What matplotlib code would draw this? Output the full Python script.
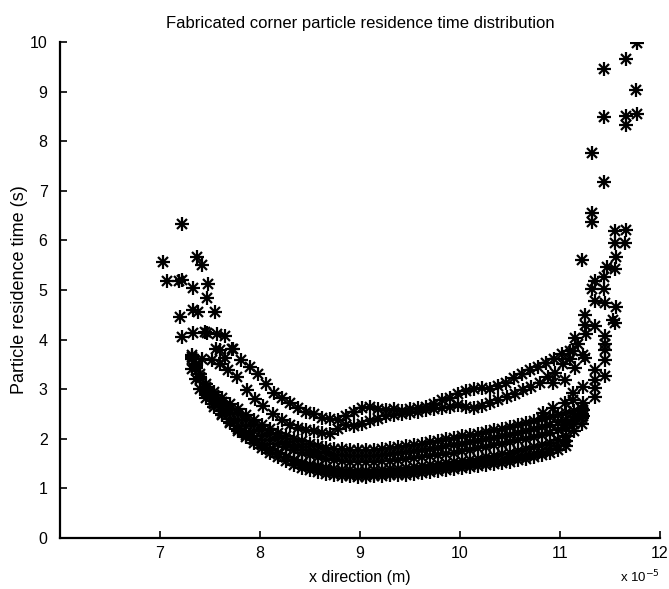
import matplotlib
matplotlib.use("Agg")
import matplotlib.pyplot as plt

plt.rcParams['font.family'] = ['Liberation Sans', 'DejaVu Sans']

# x positions are in units of 1e-5 m, y in seconds

# top band
x1 = [7.65, 7.73, 7.81, 7.9, 7.98, 8.06, 8.14, 8.22, 8.3, 8.38, 8.46, 8.54, 8.62, 8.7, 8.78,
      8.86, 8.94, 9.02, 9.1, 9.18, 9.26, 9.34, 9.42, 9.5, 9.58, 9.66, 9.74, 9.82, 9.9, 9.98,
      10.06, 10.14, 10.22, 10.3, 10.38, 10.46, 10.54, 10.62, 10.7, 10.78, 10.86, 10.94, 11.02,
      11.1, 11.18, 11.26]
y1 = [4.08, 3.82, 3.58, 3.45, 3.3, 3.1, 2.92, 2.82, 2.72, 2.62, 2.55, 2.5, 2.42, 2.4, 2.38,
      2.45, 2.55, 2.62, 2.65, 2.6, 2.58, 2.6, 2.57, 2.6, 2.62, 2.65, 2.7, 2.78, 2.82, 2.9,
      2.97, 3.0, 3.02, 3.0, 3.06, 3.12, 3.22, 3.3, 3.38, 3.45, 3.52, 3.6, 3.7,
      3.78, 3.92, 4.12]

# second band
x2 = [7.42, 7.52, 7.6, 7.68, 7.77, 7.87, 7.95, 8.03, 8.13, 8.22, 8.3, 8.38, 8.46, 8.54, 8.62,
      8.7, 8.78, 8.86, 8.94, 9.02, 9.1, 9.18, 9.26, 9.34, 9.42, 9.5, 9.58, 9.66, 9.74, 9.82,
      9.9, 9.98, 10.06, 10.14, 10.22, 10.3, 10.38, 10.47, 10.55, 10.63, 10.71, 10.8, 10.88,
      10.95, 11.03, 11.1]
y2 = [3.6, 3.58, 3.5, 3.38, 3.25, 2.98, 2.8, 2.66, 2.5, 2.38, 2.28, 2.22, 2.18, 2.15, 2.12,
      2.1, 2.2, 2.28, 2.26, 2.3, 2.35, 2.4, 2.45, 2.48, 2.5, 2.52, 2.55, 2.58, 2.6, 2.62,
      2.65, 2.68, 2.65, 2.62, 2.66, 2.72, 2.78, 2.84, 2.9, 2.98, 3.05, 3.13, 3.25,
      3.33, 3.5, 3.6]

# lower dense bands
x3 = [7.32, 7.36, 7.4, 7.46, 7.54, 7.62, 7.7, 7.78, 7.86, 7.94, 8.02, 8.1, 8.18, 8.26, 8.34,
      8.42, 8.5, 8.58, 8.66, 8.74, 8.82, 8.9, 8.98, 9.06, 9.14, 9.22, 9.3, 9.38, 9.46, 9.54,
      9.62, 9.7, 9.78, 9.86, 9.94, 10.02, 10.1, 10.18, 10.26, 10.34, 10.42, 10.5, 10.58,
      10.66, 10.74, 10.82, 10.9, 10.98, 11.06, 11.14, 11.22]
y3 = [3.68, 3.5, 3.3, 3.1, 2.95, 2.82, 2.7, 2.6, 2.48, 2.38, 2.28, 2.2, 2.12, 2.05, 2.0,
      1.95, 1.9, 1.86, 1.82, 1.8, 1.79, 1.78, 1.78, 1.78, 1.78, 1.8, 1.82, 1.84, 1.86, 1.88,
      1.9, 1.93, 1.96, 2.0, 2.02, 2.05, 2.08, 2.1, 2.13, 2.17, 2.2, 2.24, 2.28,
      2.32, 2.36, 2.4, 2.44, 2.48, 2.52, 2.56, 2.6]
y3b = [3.64, 3.46, 3.25, 3.05, 2.88, 2.74, 2.61, 2.49, 2.37, 2.27, 2.17, 2.09, 2.01, 1.94, 1.88,
       1.83, 1.78, 1.74, 1.71, 1.68, 1.67, 1.66, 1.65, 1.65, 1.66, 1.67, 1.69, 1.71, 1.73, 1.75,
       1.77, 1.79, 1.82, 1.85, 1.87, 1.9, 1.93, 1.96, 1.99, 2.02, 2.05, 2.08, 2.12,
       2.16, 2.2, 2.24, 2.28, 2.33, 2.38, 2.44, 2.5]
y4 = [3.6, 3.42, 3.2, 3.0, 2.82, 2.66, 2.52, 2.38, 2.26, 2.15, 2.06, 1.98, 1.9, 1.83, 1.77,
      1.72, 1.67, 1.63, 1.6, 1.57, 1.55, 1.54, 1.53, 1.53, 1.54, 1.55, 1.56, 1.57, 1.59, 1.61,
      1.63, 1.65, 1.67, 1.7, 1.72, 1.75, 1.78, 1.81, 1.84, 1.87, 1.9, 1.93, 1.97,
      2.0, 2.04, 2.08, 2.12, 2.17, 2.22, 2.3, 2.42]
y5 = [3.4, 3.2, 3.0, 2.82, 2.64, 2.48, 2.34, 2.2, 2.08, 1.97, 1.87, 1.78, 1.7, 1.63, 1.57,
      1.52, 1.48, 1.45, 1.42, 1.4, 1.38, 1.37, 1.36, 1.36, 1.37, 1.38, 1.39, 1.4, 1.42, 1.43,
      1.45, 1.47, 1.49, 1.51, 1.53, 1.55, 1.58, 1.6, 1.63, 1.66, 1.69, 1.72, 1.75,
      1.79, 1.83, 1.87, 1.92, 1.97, 2.05, 2.15, 2.3]
x6 = [7.46, 7.54, 7.62, 7.7, 7.78, 7.86, 7.94, 8.02, 8.1, 8.18, 8.26, 8.34, 8.42, 8.5, 8.58,
      8.66, 8.74, 8.82, 8.9, 8.98, 9.06, 9.14, 9.22, 9.3, 9.38, 9.46, 9.54, 9.62, 9.7, 9.78,
      9.86, 9.94, 10.02, 10.1, 10.18, 10.26, 10.34, 10.42, 10.5, 10.58, 10.66, 10.74, 10.82,
      10.9, 10.98, 11.06]
y6 = [2.92, 2.7, 2.5, 2.32, 2.16, 2.03, 1.92, 1.82, 1.72, 1.63, 1.55, 1.48, 1.42, 1.37, 1.33,
      1.3, 1.27, 1.25, 1.24, 1.23, 1.23, 1.24, 1.25, 1.26, 1.27, 1.28, 1.3, 1.31, 1.33, 1.35,
      1.37, 1.39, 1.41, 1.43, 1.45, 1.47, 1.49, 1.51, 1.54, 1.57, 1.6, 1.63, 1.67,
      1.72, 1.78, 1.86]
y6b = [2.96, 2.76, 2.57, 2.4, 2.25, 2.12, 2.0, 1.9, 1.8, 1.71, 1.63, 1.56, 1.5, 1.45, 1.41,
       1.37, 1.34, 1.32, 1.3, 1.29, 1.29, 1.3, 1.31, 1.32, 1.33, 1.34, 1.35, 1.37, 1.39, 1.41,
       1.43, 1.45, 1.47, 1.49, 1.51, 1.53, 1.55, 1.58, 1.61, 1.64, 1.67, 1.7, 1.74,
       1.79, 1.86, 1.95]

# scattered points, left end
x_left = [7.03, 7.07, 7.19, 7.22, 7.33, 7.37, 7.42, 7.48, 7.47, 7.33, 7.38, 7.55, 7.2, 7.22,
          7.33, 7.45, 7.47, 7.57, 7.56, 7.72, 7.22, 7.6, 7.65]
y_left = [5.56, 5.19, 5.19, 5.2, 5.05, 5.67, 5.5, 5.13, 4.83, 4.6, 4.56, 4.56, 4.46, 4.06,
          4.13, 4.16, 4.13, 4.11, 3.82, 3.82, 6.33, 3.79, 3.63]

# scattered points, right end
x_right = [11.77, 11.66, 11.44, 11.76, 11.44, 11.66, 11.77, 11.66, 11.32, 11.44, 11.32, 11.32,
           11.55, 11.66, 11.55, 11.65, 11.22, 11.56, 11.47, 11.55, 11.44, 11.35, 11.32, 11.44,
           11.35, 11.45, 11.56, 11.53, 11.55, 11.25, 11.25, 11.35, 11.45, 11.15, 11.45, 11.45,
           11.45, 11.45, 11.13, 11.23, 11.25, 11.35, 11.35, 11.35, 11.35, 11.23, 11.13, 11.15,
           11.05, 10.93, 11.23, 11.23, 11.23, 11.13, 11.05, 10.93, 10.83, 11.13, 11.05]
y_right = [9.97, 9.65, 9.45, 9.03, 8.49, 8.51, 8.55, 8.33, 7.76, 7.18, 6.56, 6.38,
           6.18, 6.21, 5.95, 5.94, 5.6, 5.66, 5.46, 5.42, 5.27, 5.19, 5.03, 5.03,
           4.78, 4.74, 4.66, 4.39, 4.33, 4.5, 4.29, 4.27, 4.07, 4.03, 3.92, 3.79,
           3.59, 3.27, 3.76, 3.69, 3.62, 3.39, 3.19, 3.02, 2.85, 3.05, 2.92, 3.43,
           3.19, 3.12, 2.72, 2.58, 2.45, 2.78, 2.72, 2.62, 2.52, 2.38, 2.28]

xs = [x1, x2, x3, x3, x3, x3, x6, x6, x_left, x_right]
ys = [y1, y2, y3, y3b, y4, y5, y6, y6b, y_left, y_right]

fig = plt.figure(figsize=(6.69, 5.89), dpi=100)
ax = fig.add_axes([0.0897, 0.0866, 0.8968, 0.8421])


def stars(ax, x, y):
    # matlab style asterisk: a plus with a smaller cross on top
    ax.plot(x, y, linestyle='none', marker='+', markersize=9.5, mew=1.6, color='black')
    ax.plot(x, y, linestyle='none', marker='x', markersize=6.5, mew=1.6, color='black')


for x, y in zip(xs, ys):
    stars(ax, x, y)

ax.set_xlim(6, 12)
ax.set_ylim(0, 10)
ax.set_xticks([7, 8, 9, 10, 11, 12])
ax.set_yticks(range(0, 11))
ax.spines['top'].set_visible(False)
ax.spines['right'].set_visible(False)
ax.spines['left'].set_linewidth(1.6)
ax.spines['bottom'].set_linewidth(1.6)
ax.tick_params(direction='in', length=5, width=1.2, labelsize=11.5)
ax.tick_params(axis='y', pad=9)
ax.tick_params(axis='x', pad=6)

ax.set_title('Fabricated corner particle residence time distribution', fontsize=12, pad=10)
ax.set_xlabel('x direction (m)', fontsize=11.5, labelpad=6)
ax.set_ylabel('Particle residence time (s)', fontsize=13, labelpad=1)
ax.text(1.0, -0.062, r'x 10$^{-5}$', transform=ax.transAxes, ha='right', va='top', fontsize=9.5)

fig.savefig('out.png', dpi=100)
